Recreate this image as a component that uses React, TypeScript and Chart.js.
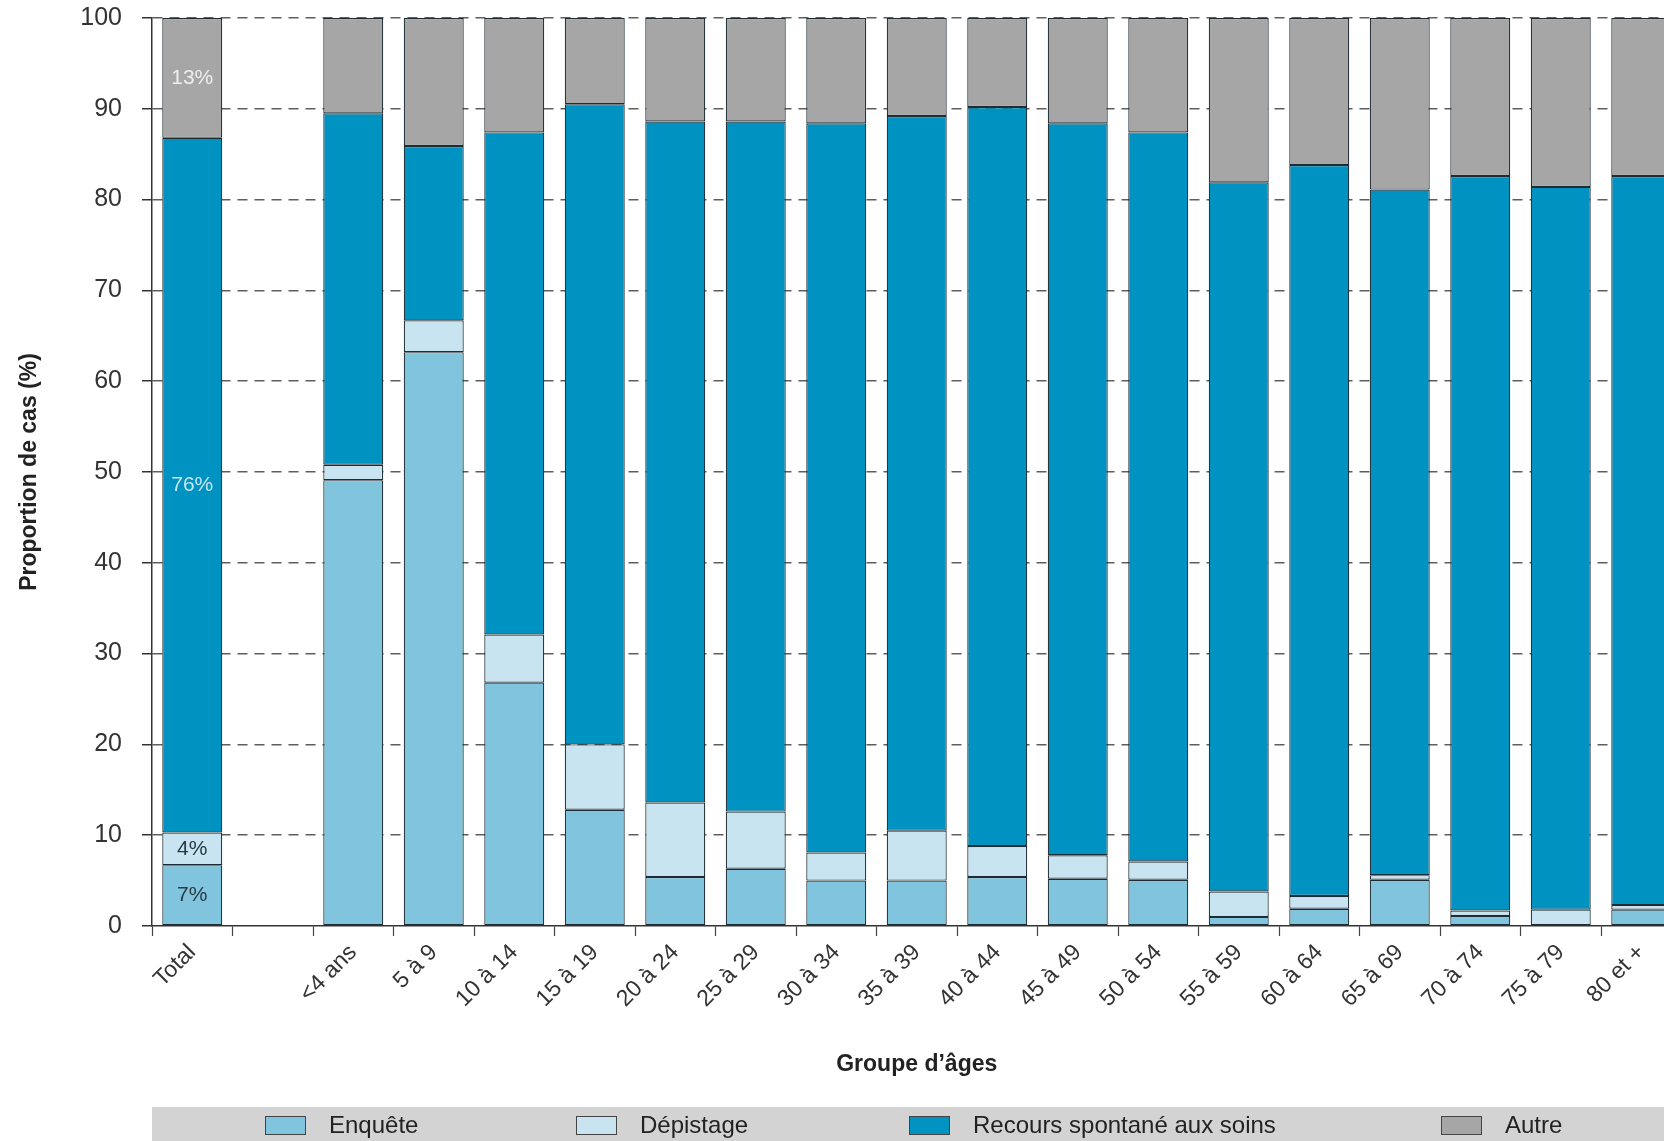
import React, { useEffect, useRef } from 'react';
import { Chart, registerables } from 'chart.js';

Chart.register(...registerables);

// ---------- data ----------
const categories = ['Total', '', '<4 ans', '5 à 9', '10 à 14', '15 à 19', '20 à 24', '25 à 29', '30 à 34', '35 à 39', '40 à 44', '45 à 49', '50 à 54', '55 à 59', '60 à 64', '65 à 69', '70 à 74', '75 à 79', '80 et +'];
const enquete = [6.7, null, 49.1, 63.2, 26.8, 12.8, 5.4, 6.3, 5.0, 5.0, 5.4, 5.2, 5.1, 1.0, 1.9, 5.1, 1.1, 0, 1.8];
const depistage = [3.6, null, 1.7, 3.5, 5.3, 7.2, 8.2, 6.3, 3.1, 5.5, 3.4, 2.6, 2.0, 2.8, 1.4, 0.5, 0.6, 1.8, 0.5];
const recours = [76.5, null, 38.7, 19.2, 55.3, 70.5, 75.0, 76.0, 80.3, 78.7, 81.4, 80.6, 80.3, 78.1, 80.5, 75.5, 80.9, 79.6, 80.3];
const autre = [13.2, null, 10.5, 14.1, 12.6, 9.5, 11.4, 11.4, 11.6, 10.8, 9.8, 11.6, 12.6, 18.1, 16.2, 18.9, 17.4, 18.6, 17.4];
const seriesNames = ['Enquête', 'Dépistage', 'Recours spontané aux soins', 'Autre'];
const totalLabels = ['7%', '4%', '76%', '13%'];
const yMin = 0;
const yMax = 100;
const yStep = 10;
const yTitle = 'Proportion de cas (%)';
const xTitle = 'Groupe d\u2019âges';

// ---------- styles ----------
const seriesColors = ['#80c4de', '#c8e4f0', '#0093c1', '#a6a6a6'];
const labelColors = ['#2a3a44', '#2a3a44', '#c4e6f3', '#eeeeee'];
const legendBoxX = [265, 576, 909, 1441];

function hasFont(name: string): boolean {
  const c = document.createElement('canvas').getContext('2d');
  if (!c) return false;
  const s = 'abcdefghijklmnopqrstuvwxyz0123456789';
  c.font = '40px monospace';
  const a = c.measureText(s).width;
  c.font = `40px "${name}", monospace`;
  const b = c.measureText(s).width;
  return Math.abs(a - b) > 0.5;
}

export default function App() {
  const ref = useRef<HTMLCanvasElement | null>(null);

  useEffect(() => {
    const canvas = ref.current;
    if (!canvas) return;
    const narrow = hasFont('Liberation Sans Narrow');
    const NF = narrow ? '"Liberation Sans Narrow", "Liberation Sans", Arial, sans-serif' : '"Liberation Sans", Arial, sans-serif';
    const RF = '"Liberation Sans", Arial, sans-serif';
    const xLabelSize = narrow ? 27 : 23;
    const legendSize = narrow ? 29 : 24;
    const titleSize = narrow ? 26 : 23;
    const valueSize = narrow ? 25 : 21;

    const valueLabelPlugin = {
      id: 'valueLabels',
      afterDatasetsDraw(chart: any) {
        const ctx = chart.ctx;
        ctx.save();
        ctx.font = `${valueSize}px ${NF}`;
        ctx.textAlign = 'center';
        ctx.textBaseline = 'middle';
        chart.data.datasets.forEach((_ds: any, i: number) => {
          const el = chart.getDatasetMeta(i).data[0];
          if (!el) return;
          ctx.fillStyle = labelColors[i];
          ctx.fillText(totalLabels[i], el.x, (el.y + el.base) / 2);
        });
        ctx.restore();
      },
    };

    const legendPlugin = {
      id: 'bandLegend',
      afterDraw(chart: any) {
        const ctx = chart.ctx;
        const W = chart.width;
        const H = chart.height;
        ctx.save();
        ctx.fillStyle = '#d3d3d3';
        ctx.fillRect(152, 1107, W - 152, H - 1107);
        ctx.font = `${legendSize}px ${NF}`;
        ctx.textAlign = 'left';
        ctx.textBaseline = 'middle';
        seriesNames.forEach((name, i) => {
          const bx = legendBoxX[i];
          ctx.fillStyle = seriesColors[i];
          ctx.fillRect(bx, 1116, 41, 19);
          ctx.strokeStyle = '#444';
          ctx.lineWidth = 1;
          ctx.strokeRect(bx + 0.5, 1116.5, 40, 18);
          ctx.fillStyle = '#222';
          ctx.fillText(name, bx + 64, 1126);
        });
        ctx.restore();
      },
    };

    const series = [enquete, depistage, recours, autre];
    const chart = new Chart(canvas, {
      type: 'bar',
      data: {
        labels: categories,
        datasets: series.map((d, i) => ({
          label: seriesNames[i],
          data: d,
          backgroundColor: seriesColors[i],
          borderColor: '#1f2c33',
          borderWidth: 1.2,
          borderSkipped: false,
          categoryPercentage: 1,
          barPercentage: 0.745,
        })),
      },
      options: {
        responsive: false,
        maintainAspectRatio: false,
        animation: false,
        devicePixelRatio: 1,
        layout: { padding: { left: 0, right: 8.5, top: 18, bottom: 61 } },
        plugins: {
          legend: { display: false },
          tooltip: { enabled: false },
        },
        scales: {
          x: {
            stacked: true,
            offset: true,
            grid: {
              offset: true,
              drawOnChartArea: false,
              drawTicks: true,
              tickLength: 10,
              tickColor: '#444',
              tickWidth: 1.2,
            },
            border: { display: true, color: '#333', width: 1.5 },
            ticks: {
              autoSkip: false,
              minRotation: 45,
              maxRotation: 45,
              padding: 3,
              color: '#333',
              font: { family: NF, size: xLabelSize },
            },
            title: {
              display: true,
              text: xTitle,
              color: '#222',
              font: { family: NF, size: titleSize, weight: 'bold' },
              padding: { top: 4, bottom: 2 },
            },
            afterFit(scale: any) {
              scale.height = 154;
              scale.paddingLeft = 0;
              scale.paddingRight = 0;
            },
          },
          y: {
            stacked: true,
            min: yMin,
            max: yMax,
            ticks: {
              stepSize: yStep,
              padding: 20,
              color: '#333',
              font: { family: RF, size: 25 },
            },
            grid: {
              color: (c: any) => (c.tick && c.tick.value === 0 ? 'rgba(0,0,0,0)' : '#5e5e5e'),
              lineWidth: 1.5,
              drawTicks: true,
              tickLength: 10,
              tickColor: '#333',
              tickWidth: 1.5,
            },
            border: { display: true, color: '#333', width: 1.5, dash: [10, 7] },
            title: {
              display: true,
              text: yTitle,
              color: '#222',
              font: { family: NF, size: titleSize, weight: 'bold' },
              padding: { top: 16, bottom: 4 },
            },
            afterFit(scale: any) {
              scale.width = 152;
              scale.paddingTop = 0;
              scale.paddingBottom = 0;
            },
          },
        },
      },
      plugins: [valueLabelPlugin, legendPlugin],
    } as any);

    return () => chart.destroy();
  }, []);

  return (
    <div style={{ position: 'fixed', left: 0, top: 0, width: 1664, height: 1141, overflow: 'hidden', background: '#fff' }}>
      <canvas ref={ref} width={1690} height={1141} style={{ display: 'block' }} />
    </div>
  );
}
